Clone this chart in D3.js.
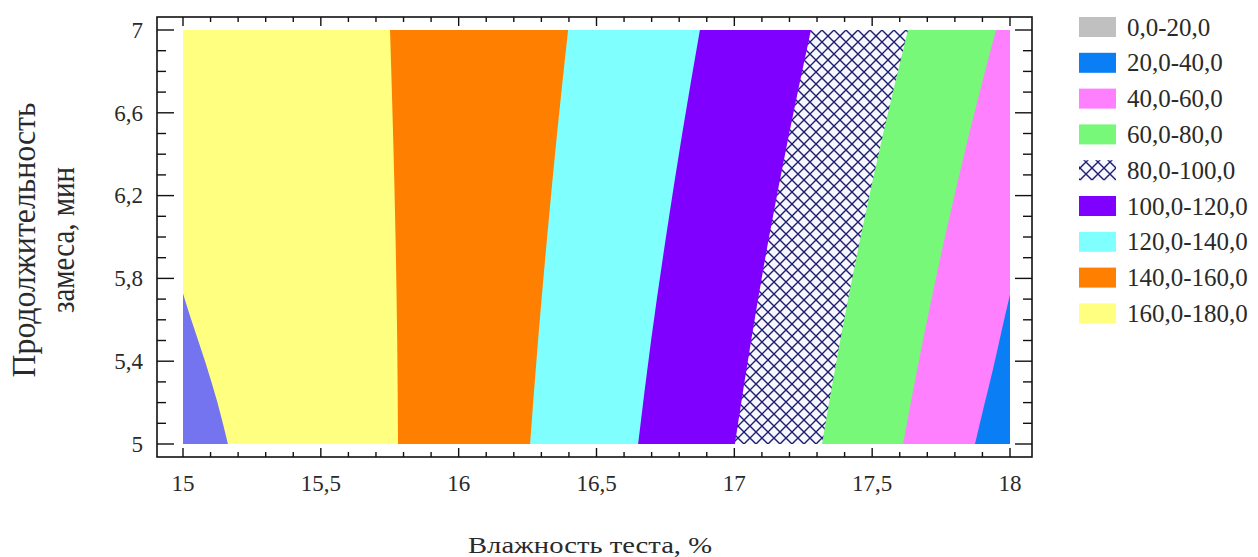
<!DOCTYPE html>
<html>
<head>
<meta charset="utf-8">
<script src="https://cdn.jsdelivr.net/npm/d3@7"></script>
<style>
  html, body { margin: 0; padding: 0; background: #fff; }
  svg { display: block; }
</style>
</head>
<body>
<svg id="chart" width="1258" height="557"></svg>
<script>
// Axis ticks (moisture, %) and (mixing time, min)
const xTickValues = [15, 15.5, 16, 16.5, 17, 17.5, 18];
const yTickValues = [5, 5.4, 5.8, 6.2, 6.6, 7];

// Legend bands
const bandLabels = ["0,0-20,0", "20,0-40,0", "40,0-60,0", "60,0-80,0", "80,0-100,0",
                    "100,0-120,0", "120,0-140,0", "140,0-160,0", "160,0-180,0"];
const bandColors = ["#c0c0c0", "#0a7ef4", "#ff80ff", "#78f878", "hatch",
                    "#8000ff", "#80ffff", "#ff8000", "#ffff80"];
const aboveTopColor = "#7474f0";

// Iso-lines: [moisture, time] points along each level
const iso180 = [[15.163, 5], [15.125, 5.2], [15.08, 5.4], [15.03, 5.6], [14.99, 5.77]];
const iso160 = [[15.78, 5], [15.777, 5.5], [15.771, 6], [15.762, 6.5], [15.751, 7]];
const iso140 = [[16.259, 5], [16.288, 5.5], [16.321, 6], [16.357, 6.5], [16.397, 7]];
const iso120 = [[16.651, 5], [16.698, 5.5], [16.752, 6], [16.811, 6.5], [16.875, 7]];
const iso100 = [[17.002, 5], [17.061, 5.5], [17.126, 6], [17.199, 6.5], [17.278, 7]];
const iso80  = [[17.318, 5], [17.384, 5.5], [17.458, 6], [17.540, 6.5], [17.630, 7]];
const iso60  = [[17.612, 5], [17.684, 5.5], [17.764, 6], [17.852, 6.5], [17.949, 7]];
const iso40  = [[17.873, 5], [17.905, 5.18], [17.938, 5.36], [17.97, 5.55], [18.005, 5.75]];

const FONT = "'Liberation Serif', 'DejaVu Serif', serif";

const svg = d3.select("#chart").attr("font-family", FONT);
const x = d3.scaleLinear().domain([15, 18]).range([183, 1010]);
const y = d3.scaleLinear().domain([5, 7]).range([444, 30]);
const frame = { left: 157, top: 17, right: 1032, bottom: 457 };
const textColor = "#2a2a2a";

const defs = svg.append("defs");
defs.append("clipPath").attr("id", "plotClip")
  .append("rect")
  .attr("x", x(15)).attr("y", y(7))
  .attr("width", x(18) - x(15)).attr("height", y(5) - y(7));

const pat = defs.append("pattern").attr("id", "hatch")
  .attr("patternUnits", "userSpaceOnUse")
  .attr("width", 12).attr("height", 12);
pat.append("rect").attr("width", 12).attr("height", 12).attr("fill", "#f7f7ff");
pat.append("path").attr("d", "M0,0L12,12M12,0L0,12M-1,11L1,13M11,-1L13,1")
  .attr("stroke", "#1d1d70").attr("stroke-width", 1.4).attr("fill", "none");

const fillOf = c => c === "hatch" ? "url(#hatch)" : c;

const plot = svg.append("g").attr("clip-path", "url(#plotClip)");

// Base band 160-180
plot.append("rect")
  .attr("x", x(15)).attr("y", y(7))
  .attr("width", x(18) - x(15)).attr("height", y(5) - y(7))
  .attr("fill", bandColors[8]);

// Region above 180 (left of its iso-line)
const leftArea = d3.area()
  .curve(d3.curveMonotoneY)
  .y(d => y(d[1]))
  .x0(() => x(14.9))
  .x1(d => x(d[0]));
plot.append("path").attr("d", leftArea(iso180)).attr("fill", aboveTopColor);

// Regions below each level (right of its iso-line), layered from high to low
const rightArea = d3.area()
  .curve(d3.curveMonotoneY)
  .y(d => y(d[1]))
  .x0(d => x(d[0]))
  .x1(() => x(18.1));
const layers = [
  [iso160, bandColors[7]],
  [iso140, bandColors[6]],
  [iso120, bandColors[5]],
  [iso100, bandColors[4]],
  [iso80,  bandColors[3]],
  [iso60,  bandColors[2]],
  [iso40,  bandColors[1]]
];
layers.forEach(([pts, c]) => {
  plot.append("path").attr("d", rightArea(pts)).attr("fill", fillOf(c));
});

// Frame
svg.append("rect")
  .attr("x", frame.left).attr("y", frame.top)
  .attr("width", frame.right - frame.left).attr("height", frame.bottom - frame.top)
  .attr("fill", "none").attr("stroke", "#111").attr("stroke-width", 1.6);

// Ticks on all four sides
const xMinor = x.ticks(30);
const yMinor = y.ticks(20);
const isMajor = (v, list) => list.some(m => Math.abs(m - v) < 1e-6);
const tickG = svg.append("g").attr("stroke", "#111").attr("stroke-width", 1.4);

xMinor.forEach(v => {
  const len = isMajor(v, xTickValues) ? 9 : 5;
  tickG.append("line").attr("x1", x(v)).attr("x2", x(v))
    .attr("y1", frame.bottom).attr("y2", frame.bottom - len);
  tickG.append("line").attr("x1", x(v)).attr("x2", x(v))
    .attr("y1", frame.top).attr("y2", frame.top + len);
});
yMinor.forEach(v => {
  const len = isMajor(v, yTickValues) ? 17 : 9;
  tickG.append("line").attr("y1", y(v)).attr("y2", y(v))
    .attr("x1", frame.left).attr("x2", frame.left + len);
  tickG.append("line").attr("y1", y(v)).attr("y2", y(v))
    .attr("x1", frame.right).attr("x2", frame.right - len);
});

const fmt = v => String(v).replace(".", ",");

svg.append("g").selectAll("text").data(xTickValues).join("text")
  .attr("x", d => x(d)).attr("y", 491)
  .attr("text-anchor", "middle")
  .attr("font-family", FONT)
  .attr("font-size", 23)
  .attr("fill", textColor)
  .text(fmt);

svg.append("g").selectAll("text").data(yTickValues).join("text")
  .attr("x", 143).attr("y", d => y(d))
  .attr("dy", "0.34em")
  .attr("text-anchor", "end")
  .attr("font-family", FONT)
  .attr("font-size", 23)
  .attr("fill", textColor)
  .text(fmt);

// Axis titles
svg.append("text")
  .attr("x", 590).attr("y", 553)
  .attr("text-anchor", "middle")
  .attr("font-family", FONT)
  .attr("font-size", 23)
  .attr("fill", textColor)
  .attr("textLength", 244).attr("lengthAdjust", "spacingAndGlyphs")
  .text("Влажность теста, %");

svg.append("text")
  .attr("transform", "translate(35,240) scale(1.5,1) rotate(-90)")
  .attr("text-anchor", "middle")
  .attr("font-family", FONT)
  .attr("font-size", 22)
  .attr("fill", textColor)
  .attr("textLength", 275).attr("lengthAdjust", "spacingAndGlyphs")
  .text("Продолжительность");

svg.append("text")
  .attr("transform", "translate(74,240) scale(1.5,1) rotate(-90)")
  .attr("text-anchor", "middle")
  .attr("font-family", FONT)
  .attr("font-size", 22)
  .attr("fill", textColor)
  .attr("textLength", 146).attr("lengthAdjust", "spacingAndGlyphs")
  .text("замеса, мин");

// Legend
const legend = svg.append("g");
bandLabels.forEach((lab, i) => {
  const cy = 27 + 35.8 * i;
  legend.append("rect")
    .attr("x", 1079).attr("y", cy - 10)
    .attr("width", 37).attr("height", 20)
    .attr("fill", fillOf(bandColors[i]));
  legend.append("text")
    .attr("x", 1127).attr("y", cy)
    .attr("dy", "0.34em")
    .attr("font-family", FONT)
    .attr("font-size", 25)
    .attr("fill", textColor)
    .text(lab);
});
</script>
</body>
</html>
